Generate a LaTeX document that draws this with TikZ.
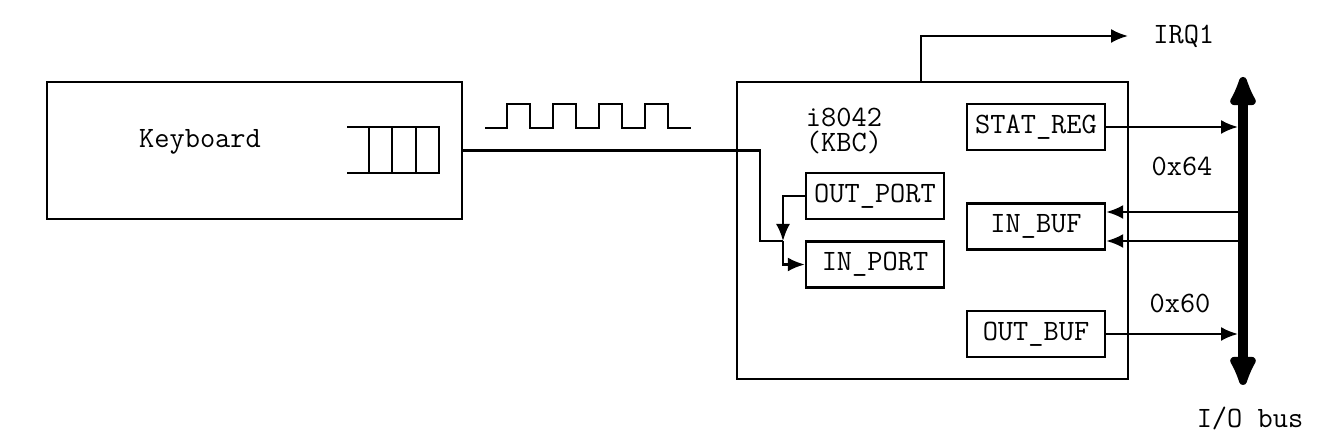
\documentclass[tikz,border=0pt]{standalone}
\usepackage{fontspec}
\usetikzlibrary{arrows.meta}
\begin{document}
\begin{tikzpicture}[
  font=\fontsize{16.8}{19.5}\selectfont\ttfamily,
  regbox/.style={draw, line width=1.4pt, minimum width=2.76cm, minimum height=0.92cm, inner sep=0pt},
  wire/.style={line width=1.3pt},
  tip/.style={-{Latex[length=0.34cm,width=0.28cm]}},
  bus/.style={line width=0.2cm, {Latex[length=0.78cm,width=0.64cm,round]}-{Latex[length=0.78cm,width=0.64cm,round]}}
]
\useasboundingbox (0,0) rectangle (26.6,8.76);
% keyboard
\node[draw, line width=1.4pt, minimum width=8.3cm, minimum height=2.74cm] (kbd) at (5.09,5.75) {};
\node (kbdtext) at (4.0,5.92) {Keyboard};
\draw[wire] (6.94,6.22) -- (8.78,6.22) -- (8.78,5.30) -- (6.94,5.30);
\foreach \x in {7.38,7.84,8.32} \draw[wire] (\x,6.22) -- (\x,5.30);
% clock signal
\draw[wire] (9.70,6.20) \foreach \x in {10.14,11.06,11.98,12.90} {-- (\x,6.20) -- (\x,6.68) -- (\x+0.46,6.68) -- (\x+0.46,6.20)} -- (13.82,6.20);
% controller
\node[draw, line width=1.4pt, minimum width=7.82cm, minimum height=5.94cm] (kbc) at (18.65,4.15) {};
\node[align=center, inner sep=0pt] (kbcname) at (16.88,6.14) {i8042\\[-5pt](KBC)};
\node[regbox] (statreg) at (20.72,6.22) {STAT\_REG};
\node[regbox] (inbuf) at (20.72,4.23) {IN\_BUF};
\node[regbox] (outbuf) at (20.72,2.08) {OUT\_BUF};
\node[regbox] (outport) at (17.50,4.84) {OUT\_PORT};
\node[regbox] (inport) at (17.50,3.47) {IN\_PORT};
% irq
\coordinate (irqup) at (18.42,8.04);
\node[anchor=west, inner sep=0pt] (irq) at (23.06,8.04) {IRQ1};
\draw[wire, tip] (kbc.north -| irqup) -- (irqup) -- ([xshift=-0.5cm]irq.west);
% keyboard line and ports
\coordinate (bend) at (15.20,3.94);
\coordinate (junc) at (15.66,3.94);
\draw[wire] (kbd.east) -| (bend) -- (junc);
\draw[wire, tip] (outport.west) -| (junc);
\draw[wire, tip] (junc) |- (inport.west);
% i/o bus
\coordinate (bustop) at (24.86,7.22);
\coordinate (busbot) at (24.86,1.06);
\coordinate (busl) at (24.76,0);
\draw[bus] (busbot) -- (bustop);
\draw[wire, tip] (statreg.east) -- (statreg.east -| busl);
\draw[wire, tip] ([yshift=0.29cm]inbuf.east -| busl) -- ([yshift=0.29cm]inbuf.east);
\draw[wire, tip] ([yshift=-0.29cm]inbuf.east -| busl) -- ([yshift=-0.29cm]inbuf.east);
\draw[wire, tip] (outbuf.east) -- (outbuf.east -| busl);
\node (port64) at (23.64,5.44) {0x64};
\node (port60) at (23.60,2.70) {0x60};
\node (buslabel) at (25.00,0.40) {I/O bus};
\end{tikzpicture}
\end{document}
